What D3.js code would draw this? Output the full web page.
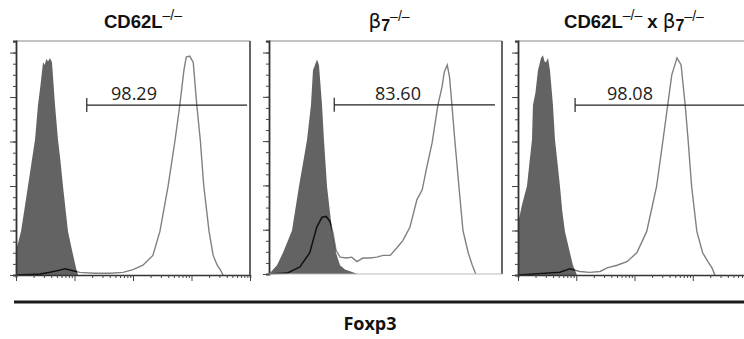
<!DOCTYPE html>
<html><head><meta charset="utf-8">
<script src="https://cdn.jsdelivr.net/npm/d3@7"></script>
<style>body{margin:0;background:#fff}svg{display:block}</style>
</head><body>
<svg id="chart" width="744" height="339"></svg>
<script>
// ---- data (x in log10 decades of Foxp3 intensity, y in cell counts) ----
const gateLabels = ["98.29", "83.60", "98.08"];
const gateFrom = [1.21, 1.12, 0.98];
const gateTo = [3.95, 3.88, 3.95];
const gateLevel = [191, 191, 191];

const isoLogA = [0, 0.04, 0.085, 0.14, 0.205, 0.26, 0.325, 0.376, 0.42, 0.462, 0.49, 0.52, 0.547, 0.58, 0.615, 0.667, 0.718, 0.76, 0.803, 0.85, 0.889, 0.957, 1.026, 1.06];
const isoCountA = [28, 37, 49, 72, 100, 124, 152, 191, 214, 239, 236, 243, 240, 244, 239, 191, 152, 128, 100, 72, 49, 28, 8, 0];
const foxLogA = [0, 0.41, 0.58, 0.72, 0.84, 0.96, 1.09, 1.35, 1.61, 1.83, 2.0, 2.17, 2.34, 2.46, 2.6, 2.72, 2.8, 2.87, 2.91, 2.97, 3.03, 3.09, 3.15, 3.21, 3.3, 3.37, 3.44, 3.49, 3.54];
const foxCountA = [0, 1, 3, 5, 7, 5, 3, 2, 2, 3, 6, 11, 22, 49, 100, 152, 191, 230, 245, 246, 239, 191, 152, 100, 49, 22, 11, 6, 0];

const isoLogB = [0.017, 0.137, 0.24, 0.395, 0.515, 0.652, 0.721, 0.755, 0.824, 0.858, 0.91, 0.944, 0.996, 1.082, 1.15, 1.219, 1.305, 1.476, 1.528];
const isoCountB = [1, 10, 24, 49, 99, 151, 191, 230, 242, 236, 191, 151, 99, 49, 24, 10, 5, 1, 0];
const foxLogB = [0.017, 0.31, 0.53, 0.70, 0.82, 0.91, 0.98, 1.05, 1.10, 1.15, 1.22, 1.34, 1.42, 1.51, 1.61, 1.73, 1.85, 1.96, 2.08, 2.20, 2.30, 2.42, 2.54, 2.63, 2.71, 2.80, 2.90, 2.97, 3.01, 3.06, 3.10, 3.14, 3.19, 3.26, 3.33, 3.42, 3.49, 3.55];
const foxCountB = [0, 1, 8, 24, 53, 64, 65, 59, 46, 27, 19, 18, 19, 14, 18, 18, 19, 21, 21, 30, 38, 53, 84, 95, 121, 148, 191, 211, 228, 236, 222, 191, 151, 99, 49, 24, 10, 0];

const isoLogC = [0, 0.069, 0.154, 0.2, 0.24, 0.257, 0.3, 0.343, 0.395, 0.429, 0.455, 0.48, 0.515, 0.549, 0.6, 0.635, 0.68, 0.72, 0.76, 0.806, 0.892, 0.943, 1.012];
const isoCountC = [58, 79, 100, 128, 152, 191, 205, 230, 244, 247, 240, 239, 244, 230, 191, 152, 125, 100, 72, 49, 25, 11, 0];
const foxLogC = [0, 0.46, 0.72, 0.89, 1.06, 1.23, 1.41, 1.53, 1.70, 1.87, 2.04, 2.21, 2.38, 2.49, 2.57, 2.64, 2.73, 2.80, 2.87, 2.92, 2.98, 3.07, 3.17, 3.26, 3.33, 3.38];
const foxCountC = [0, 2, 3, 7, 4, 3, 4, 8, 11, 15, 25, 49, 100, 152, 191, 225, 244, 236, 191, 152, 100, 49, 25, 15, 8, 0];

const yMajorTicks = [0, 50, 100, 150, 200, 250];
const xMajorTicks = [1, 10, 100, 1000, 10000];

// ---- layout ----
const svg = d3.select("#chart");
const panels = [
  {left: 16, width: 234, top: 41, bottom: 275, iso: [isoLogA, isoCountA], fox: [foxLogA, foxCountA], xTicks: true},
  {left: 269, width: 233, top: 41, bottom: 274, iso: [isoLogB, isoCountB], fox: [foxLogB, foxCountB], xTicks: false},
  {left: 518, width: 233, top: 41, bottom: 275, iso: [isoLogC, isoCountC], fox: [foxLogC, foxCountC], xTicks: true}
];

const minorY = d3.range(0, 263, 12.5);
const minorX = [];
for (let e = 0; e < 4; e++) for (let k = 2; k <= 9; k++) minorX.push(k * Math.pow(10, e));

panels.forEach((p, i) => {
  const x = d3.scaleLog().domain([1, 1e4]).range([p.left, p.left + p.width]);
  const y = d3.scaleLinear().domain([0, 263]).range([p.bottom, p.top]);
  const g = svg.append("g");
  const iso = p.iso[0].map((d, j) => [10 ** d, p.iso[1][j]]);
  const fox = p.fox[0].map((d, j) => [10 ** d, p.fox[1][j]]);

  const area = d3.area().x(d => x(d[0])).y0(y(0)).y1(d => y(d[1]));
  const line = d3.line().x(d => x(d[0])).y(d => y(d[1]));

  // frame top / right
  g.append("line").attr("x1", p.left).attr("x2", p.left + p.width).attr("y1", p.top).attr("y2", p.top)
    .attr("stroke", "#888").attr("stroke-width", 1.2);
  g.append("line").attr("x1", p.left + p.width).attr("x2", p.left + p.width).attr("y1", p.top).attr("y2", p.bottom)
    .attr("stroke", "#555").attr("stroke-width", 1.8);

  // isotype filled
  g.append("path").datum(iso).attr("d", area).attr("fill", "#636363");
  const cid = "clip" + i;
  svg.append("clipPath").attr("id", cid).append("path").datum(iso).attr("d", area);
  // stained line
  g.append("path").datum(fox).attr("d", line).attr("fill", "none").attr("stroke", "#808080").attr("stroke-width", 1.4);
  g.append("path").datum(fox).attr("d", line).attr("fill", "none").attr("stroke", "#111")
    .attr("stroke-width", 1.6).attr("clip-path", `url(#${cid})`);

  // y axis
  const ya = g.append("g").attr("transform", `translate(${p.left},0)`)
    .call(d3.axisLeft(y).tickValues(minorY).tickSize(3).tickFormat(""));
  g.append("g").attr("transform", `translate(${p.left},0)`)
    .call(d3.axisLeft(y).tickValues(yMajorTicks).tickSize(6).tickFormat(""))
    .select(".domain").remove();
  ya.select(".domain").attr("stroke", "#333").attr("stroke-width", 1.8);
  g.selectAll(".tick line").attr("stroke", "#444");

  // x axis
  if (p.xTicks) {
    const xa = g.append("g").attr("transform", `translate(0,${p.bottom})`)
      .call(d3.axisBottom(x).tickValues(minorX).tickSize(3).tickFormat(""));
    g.append("g").attr("transform", `translate(0,${p.bottom})`)
      .call(d3.axisBottom(x).tickValues(xMajorTicks).tickSize(6).tickFormat(""))
      .select(".domain").remove();
    xa.select(".domain").attr("stroke", "#333").attr("stroke-width", 1.6);
    g.selectAll(".tick line").attr("stroke", "#444");
  } else {
    g.append("line").attr("x1", p.left).attr("x2", p.left + p.width).attr("y1", p.bottom).attr("y2", p.bottom)
      .attr("stroke", "#bbb").attr("stroke-width", 1.2);
  }

  // gate
  const gy = y(gateLevel[i]);
  const gx1 = x(10 ** gateFrom[i]), gx2 = x(10 ** gateTo[i]);
  g.append("line").attr("x1", gx1).attr("x2", gx2).attr("y1", gy).attr("y2", gy).attr("stroke", "#222").attr("stroke-width", 1.2);
  g.append("line").attr("x1", gx1).attr("x2", gx1).attr("y1", gy - 7).attr("y2", gy + 7).attr("stroke", "#222").attr("stroke-width", 1.2);
  g.append("text").attr("x", i === 0 ? 134 : i === 1 ? 398 : 630).attr("y", gy - 5)
    .attr("text-anchor", "middle").attr("font-family", "Open Sans, sans-serif").attr("font-size", 18)
    .attr("fill", "#222").text(gateLabels[i]);
});

// titles
function title(cx, parts) {
  const t = svg.append("text").attr("x", cx).attr("y", 28).attr("text-anchor", "middle")
    .attr("font-family", "Liberation Sans, Arial, sans-serif").attr("fill", "#111");
  parts.forEach(pt => {
    const s = t.append("tspan").text(pt.t);
    if (pt.sup) s.attr("font-size", 14).attr("font-weight", "normal").attr("dy", -8);
    else if (pt.sub) s.attr("font-size", 16).attr("font-weight", "bold").attr("dy", 3);
    else if (pt.greek) s.attr("font-size", 20).attr("font-weight", "normal").attr("font-family", "DejaVu Sans, sans-serif");
    else s.attr("font-size", 18.5).attr("font-weight", "bold");
    if (pt.dy) s.attr("dy", pt.dy);
  });
}
title(143, [{t: "CD62L"}, {t: "\u2013/\u2013", sup: true}]);
title(389, [{t: "\u03b2", greek: true}, {t: "7", sub: true}, {t: "\u2013/\u2013", sup: true, dy: -10}]);
title(634, [{t: "CD62L"}, {t: "\u2013/\u2013", sup: true}, {t: " x ", dy: 8}, {t: "\u03b2", greek: true}, {t: "7", sub: true}, {t: "\u2013/\u2013", sup: true, dy: -10}]);

// common axis line and label
svg.append("line").attr("x1", 14).attr("x2", 744).attr("y1", 302).attr("y2", 302).attr("stroke", "#1a1a1a").attr("stroke-width", 3);
svg.append("text").attr("x", 370).attr("y", 330).attr("text-anchor", "middle")
  .attr("font-family", "Open Sans, sans-serif").attr("font-weight", "bold").attr("font-size", 18)
  .attr("fill", "#111").text("Foxp3");
</script>
</body></html>
